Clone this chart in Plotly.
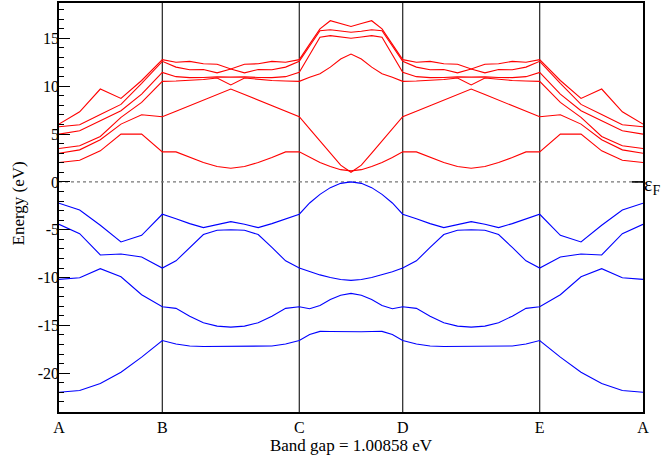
import numpy as np
import plotly.graph_objects as go

# High-symmetry points along the k-path
k_labels = ["A", "B", "C", "D", "E", "A"]
k_nodes = [0.0, 1.0, 2.326, 3.327, 4.653, 5.653]
seg_points = [5, 10, 10, 10, 5]

# Conduction bands (red), 41 k-points each
R1 = [6.04, 7.33, 9.71, 8.73, 10.6, 12.78,
      12.5, 12.6, 12.35, 12.3, 11.8, 12.3, 12.35, 12.6, 12.5, 12.78,
      14.4, 16.0, 16.85, 16.55, 16.25, 16.55, 16.85, 16.0, 14.4, 12.78,
      12.5, 12.6, 12.35, 12.3, 11.8, 12.3, 12.35, 12.6, 12.5, 12.78,
      10.6, 8.73, 9.71, 7.33, 6.04]
R2 = [5.76, 5.97, 7.05, 8.10, 10.3, 12.6,
      12.0, 11.72, 11.75, 11.4, 11.8, 11.4, 11.75, 11.72, 12.0, 12.6,
      14.2, 15.8, 15.9, 15.75, 15.64, 15.75, 15.9, 15.8, 14.2, 12.6,
      12.0, 11.72, 11.75, 11.4, 11.8, 11.4, 11.75, 11.72, 12.0, 12.6,
      10.3, 8.10, 7.05, 5.97, 5.76]
R3 = [4.99, 5.34, 6.39, 7.44, 9.18, 11.45,
      11.0, 10.9, 10.92, 10.98, 10.95, 10.98, 10.92, 10.9, 11.0, 11.45,
      13.3, 15.12, 15.29, 15.15, 15.01, 15.15, 15.29, 15.12, 13.3, 11.45,
      11.0, 10.9, 10.92, 10.98, 10.95, 10.98, 10.92, 10.9, 11.0, 11.45,
      9.18, 7.44, 6.39, 5.34, 4.99]
R4 = [3.49, 3.77, 4.75, 6.74, 8.31, 10.51,
      10.55, 10.6, 10.7, 10.86, 10.13, 10.86, 10.7, 10.6, 10.55, 10.51,
      10.95, 11.3, 12.0, 12.85, 13.37, 12.85, 12.0, 11.3, 10.95, 10.51,
      10.55, 10.6, 10.7, 10.86, 10.13, 10.86, 10.7, 10.6, 10.55, 10.51,
      8.31, 6.74, 4.75, 3.77, 3.49]
R5 = [3.0, 3.35, 4.40, 6.04, 7.02, 6.81,
      7.39, 7.97, 8.55, 9.13, 9.71, 9.13, 8.55, 7.97, 7.39, 6.81,
      5.55, 4.3, 3.0, 1.75, 1.01, 1.75, 3.0, 4.3, 5.55, 6.81,
      7.39, 7.97, 8.55, 9.13, 9.71, 9.13, 8.55, 7.97, 7.39, 6.81,
      7.02, 6.04, 4.40, 3.35, 3.0]
R6 = [2.03, 2.27, 3.25, 4.99, 4.99, 3.14,
      3.14, 2.55, 2.03, 1.61, 1.43, 1.61, 2.03, 2.55, 3.14, 3.14,
      2.55, 2.02, 1.6, 1.28, 1.15, 1.28, 1.6, 2.02, 2.55, 3.14,
      3.14, 2.55, 2.03, 1.61, 1.43, 1.61, 2.03, 2.55, 3.14, 3.14,
      4.99, 4.99, 3.25, 2.27, 2.03]

# Valence bands (blue)
V1 = [-2.23, -2.93, -4.53, -6.28, -5.58, -3.38,
      -3.84, -4.36, -4.78, -4.43, -4.15, -4.43, -4.78, -4.36, -3.84, -3.38,
      -2.2, -1.3, -0.6, -0.15, 0.0, -0.15, -0.6, -1.3, -2.2, -3.38,
      -3.84, -4.36, -4.78, -4.43, -4.15, -4.43, -4.78, -4.36, -3.84, -3.38,
      -5.58, -6.28, -4.53, -2.93, -2.23]
V2 = [-4.43, -5.41, -7.64, -7.54, -7.85, -9.0,
      -8.25, -6.85, -5.5, -5.05, -5.0, -5.05, -5.5, -6.85, -8.25, -9.0,
      -9.4, -9.72, -10.0, -10.2, -10.29, -10.2, -10.0, -9.72, -9.4, -9.0,
      -8.25, -6.85, -5.5, -5.05, -5.0, -5.05, -5.5, -6.85, -8.25, -9.0,
      -7.85, -7.54, -7.64, -5.41, -4.43]
V3 = [-10.19, -10.01, -9.07, -9.91, -11.79, -13.05,
      -13.22, -14.03, -14.72, -15.07, -15.18, -15.07, -14.72, -14.03, -13.22, -13.05,
      -13.26, -12.91, -12.3, -11.85, -11.65, -11.85, -12.3, -12.91, -13.26, -13.05,
      -13.22, -14.03, -14.72, -15.07, -15.18, -15.07, -14.72, -14.03, -13.22, -13.05,
      -11.79, -9.91, -9.07, -10.01, -10.19]
V4 = [-21.99, -21.81, -21.08, -19.89, -18.32, -16.58,
      -16.95, -17.15, -17.2, -17.2, -17.2, -17.2, -17.2, -17.15, -16.95, -16.58,
      -15.95, -15.62, -15.63, -15.66, -15.7, -15.66, -15.63, -15.62, -15.95, -16.58,
      -16.95, -17.15, -17.2, -17.2, -17.2, -17.2, -17.2, -17.15, -16.95, -16.58,
      -18.32, -19.89, -21.08, -21.81, -21.99]

y_tickvals = [-20, -15, -10, -5, 0, 5, 10, 15]
y_ticktext = ["-20", "-15", "-10", "-5", "0", "5", "10", "15"]
band_gap_text = "Band gap = 1.00858 eV"
y_title = "Energy (eV)"

# k coordinate of each sample along the path
kx = [k_nodes[0]]
for i, n in enumerate(seg_points):
    kx += list(np.linspace(k_nodes[i], k_nodes[i + 1], n + 1)[1:])

FONT = "Liberation Serif"
fig = go.Figure()

for b in [R1, R2, R3, R4, R5, R6]:
    fig.add_trace(go.Scatter(x=kx, y=b, mode="lines",
                             line=dict(color="#ff0000", width=1.1),
                             showlegend=False, hoverinfo="skip"))
for b in [V1, V2, V3, V4]:
    fig.add_trace(go.Scatter(x=kx, y=b, mode="lines",
                             line=dict(color="#0000ff", width=1.1),
                             showlegend=False, hoverinfo="skip"))

shapes = []
for xv in k_nodes[1:-1]:
    shapes.append(dict(type="line", xref="x", yref="paper", x0=xv, x1=xv,
                       y0=0, y1=1, line=dict(color="#222", width=1.2),
                       layer="below"))
shapes.append(dict(type="line", xref="paper", yref="y", x0=0, x1=1, y0=0, y1=0,
                   line=dict(color="#777", width=1.2, dash="dot"), layer="below"))
shapes.append(dict(type="line", xref="paper", yref="y", x0=1 - 11 / 584, x1=1,
                   y0=0, y1=0, line=dict(color="black", width=1.6)))

fig.update_layout(
    width=663, height=455,
    margin=dict(l=59, r=20, t=3, b=43),
    paper_bgcolor="white", plot_bgcolor="white",
    font=dict(family=FONT, size=16, color="black"),
    shapes=shapes,
    annotations=[
        dict(xref="paper", yref="y", x=1, y=0, xanchor="left",
             yanchor="middle", xshift=-1, yshift=-4, showarrow=False,
             text="ε<sub>F</sub>", font=dict(family=FONT, size=20)),
        dict(xref="paper", yref="paper", x=0, y=0.51, xanchor="center",
             yanchor="middle", xshift=-41, showarrow=False, textangle=-90,
             text=y_title, font=dict(family=FONT, size=17)),
    ],
    xaxis=dict(range=[k_nodes[0], k_nodes[-1]], tickvals=k_nodes,
               ticktext=k_labels, showgrid=False, zeroline=False,
               showline=True, linecolor="black", linewidth=1.5, mirror=True,
               ticks="", tickfont=dict(family=FONT, size=16), automargin=False,
               title=dict(text=band_gap_text, standoff=0,
                          font=dict(family=FONT, size=17))),
    yaxis=dict(range=[-24.05, 18.7], tickvals=y_tickvals, ticktext=y_ticktext,
               showgrid=False, zeroline=False, showline=True,
               linecolor="black", linewidth=1.5, mirror=True,
               ticks="inside", ticklen=11, tickwidth=1.2, tickcolor="black",
               ticklabelstandoff=-5,
               minor=dict(tickmode="array", tickvals=list(range(-24, 19)),
                          ticks="inside", ticklen=5, tickwidth=1,
                          tickcolor="black"),
               tickfont=dict(family=FONT, size=16), automargin=False),
)

fig.write_html("out.html", config={"displayModeBar": False},
               post_script="document.body.style.margin='0';")
